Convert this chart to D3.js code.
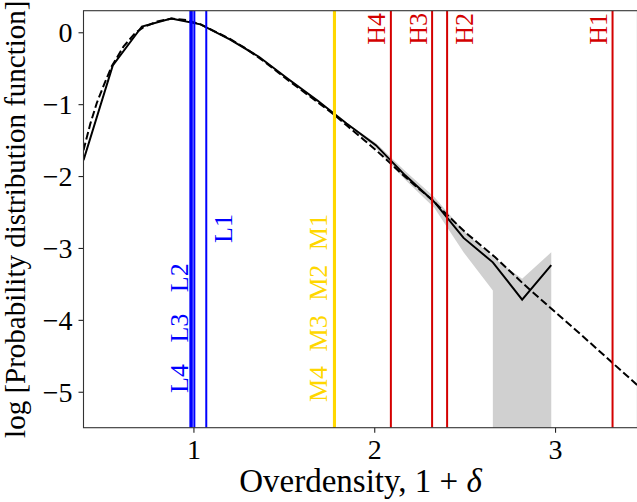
<!DOCTYPE html>
<html><head><meta charset="utf-8">
<script src="https://cdn.jsdelivr.net/npm/d3@7"></script>
<style>
body{margin:0;background:#fff}
text{font-family:"Liberation Serif","Times New Roman",serif}
</style></head>
<body><svg id="c" width="637" height="502"></svg>
<script>
// ---- data ----
const xDomain = [0.392, 3.456];
const yDomain = [-5.5, 0.3];
const xTicks = [1, 2, 3];
const yTicks = [-5, -4, -3, -2, -1, 0];

// measured PDF (solid)
const pdfX = [0.392, 0.554, 0.715, 0.877, 1.039, 1.201, 1.362, 1.524, 1.686, 1.847, 2.009, 2.171, 2.332, 2.494, 2.656, 2.818, 2.979];
const pdfY = [-1.78, -0.46, 0.08, 0.19, 0.11, -0.10, -0.34, -0.65, -0.95, -1.27, -1.57, -1.99, -2.36, -2.86, -3.20, -3.72, -3.24];
const bandUpper = [-1.77, -0.45, 0.09, 0.20, 0.12, -0.09, -0.33, -0.64, -0.94, -1.26, -1.54, -1.93, -2.29, -2.76, -3.13, -3.43, -3.06];
const bandLower = [-1.79, -0.47, 0.07, 0.18, 0.10, -0.11, -0.35, -0.66, -0.96, -1.28, -1.61, -2.05, -2.44, -3.06, -3.59, -Infinity, -Infinity];

// lognormal fit (dashed)
const fitX = [0.392, 0.43, 0.466, 0.51, 0.549, 0.613, 0.678, 0.724, 0.80, 0.88, 0.96, 1.04, 1.12, 1.2, 1.28, 1.36, 1.44, 1.52, 1.60, 1.68, 1.775, 1.85, 1.94, 2.01, 2.088, 2.143, 2.23, 2.32, 2.411, 2.512, 2.669, 2.825, 3.0, 3.15, 3.314, 3.456];
const fitY = [-1.64, -1.27, -0.98, -0.70, -0.47, -0.20, -0.01, 0.07, 0.15, 0.19, 0.17, 0.11, 0.01, -0.09, -0.21, -0.35, -0.50, -0.66, -0.81, -0.96, -1.14, -1.30, -1.49, -1.64, -1.82, -1.95, -2.14, -2.33, -2.56, -2.80, -3.13, -3.50, -3.89, -4.22, -4.59, -4.91];

// region markers
const lowDens = [0.983, 0.991, 1.005, 1.071];
const lowNames = ["L4", "L3", "L2", "L1"];
const midDens = [1.777, 1.779, 1.781, 1.783];
const midNames = ["M4", "M3", "M2", "M1"];
const highDens = [2.092, 2.32, 2.403, 3.318];
const highNames = ["H4", "H3", "H2", "H1"];

const colLow = "#0000ff", colMid = "#ffd700", colHigh = "#d40000";

// ---- layout ----
const L = 83.5, R = 637.5, T = 10.7, B = 427.7;
const svg = d3.select("#c");
const x = d3.scaleLinear().domain(xDomain).range([L, R]);
const y = d3.scaleLinear().domain(yDomain).range([B, T]);

svg.append("clipPath").attr("id", "clip").append("rect")
  .attr("x", L).attr("y", T).attr("width", R - L).attr("height", B - T);
const plot = svg.append("g").attr("clip-path", "url(#clip)");

// band polygon (lower -inf => vertical drop, as matplotlib renders it)
const BIG = B + 100;
const upPts = pdfX.map((v, i) => [x(v), y(bandUpper[i])]);
const loPts = [];
const n = pdfX.length;
for (let i = 0; i < n; i++) {
  if (isFinite(bandLower[i])) {
    if (i > 0 && !isFinite(bandLower[i - 1])) loPts.push([x(pdfX[i]), BIG]);
    loPts.push([x(pdfX[i]), y(bandLower[i])]);
  } else {
    if (i > 0 && isFinite(bandLower[i - 1])) loPts.push([x(pdfX[i - 1]), BIG]);
    if (i === n - 1) loPts.push([x(pdfX[i]), BIG]);
  }
}
plot.append("path")
  .attr("d", "M" + upPts.concat(loPts.reverse()).map(p => p.join(",")).join("L") + "Z")
  .attr("fill", "#d0d0d0").attr("stroke", "none");

const line = d3.line().x(d => x(d[0])).y(d => y(d[1]));
plot.append("path").datum(fitX.map((v, i) => [v, fitY[i]]))
  .attr("d", line).attr("fill", "none").attr("stroke", "#000")
  .attr("stroke-width", 2).attr("stroke-dasharray", "7.7,3.3");
plot.append("path").datum(pdfX.map((v, i) => [v, pdfY[i]]))
  .attr("d", line).attr("fill", "none").attr("stroke", "#000")
  .attr("stroke-width", 2).attr("stroke-linejoin", "miter");

// vertical markers
function vlines(vals, col) {
  plot.selectAll(null).data(vals).enter().append("line")
    .attr("x1", d => x(d)).attr("x2", d => x(d))
    .attr("y1", T).attr("y2", B)
    .attr("stroke", col).attr("stroke-width", 2);
}
vlines(lowDens, colLow);
vlines(midDens, colMid);
vlines(highDens, colHigh);

// marker labels
const fs = 26;
function vtext(txt, bx, by, anchor, col, ws) {
  svg.append("text")
    .attr("transform", `translate(${bx},${by}) rotate(-90)`)
    .attr("text-anchor", anchor)
    .attr("font-size", fs).attr("fill", col)
    .style("word-spacing", (ws || 0) + "px")
    .text(txt);
}
vtext(lowNames.slice(0, 3).join(" "), x(lowDens[0]) - 2, 393, "start", colLow, 15);
vtext(lowNames[3], x(lowDens[3]) + 26, 243, "start", colLow);
vtext(midNames.join(" "), x(midDens[0]) - 7, 402, "start", colMid, 8);
highDens.forEach((d, i) => {
  const rightSide = highNames[i] === "H2";
  vtext(highNames[i], rightSide ? x(d) + 26 : x(d) - 5.5, 13, "end", colHigh);
});

// axes
const ax = svg.append("g");
const yAx = ax.append("g").attr("transform", `translate(${L},0)`)
  .call(d3.axisLeft(y).tickValues(yTicks).tickSize(5).tickSizeOuter(0).tickPadding(6)
    .tickFormat(d => d < 0 ? "\u2212" + Math.abs(d) : d));
const xAx = ax.append("g").attr("transform", `translate(0,${B})`)
  .call(d3.axisBottom(x).tickValues(xTicks).tickSize(5).tickSizeOuter(0).tickPadding(6)
    .tickFormat(d3.format("d")));
ax.selectAll(".domain").remove();
ax.selectAll(".tick line").attr("stroke", "#222").attr("stroke-width", 1.1);
ax.selectAll(".tick text").attr("font-family", "Liberation Serif, serif").attr("font-size", 28).attr("fill", "#000");
yAx.selectAll(".tick text").attr("dy", "0.33em");
xAx.selectAll(".tick text").attr("dy", "0.71em");

svg.append("rect").attr("x", L).attr("y", T).attr("width", R - L).attr("height", B - T)
  .attr("fill", "none").attr("stroke", "#333").attr("stroke-width", 1.1);

// axis labels
svg.append("text").attr("transform", `translate(25,${(T + B) / 2}) rotate(-90)`)
  .attr("text-anchor", "middle").attr("font-size", 29)
  .text("log [Probability distribution function]");
const xl = svg.append("text").attr("x", (L + R) / 2).attr("y", 492)
  .attr("text-anchor", "middle").attr("font-size", 33);
xl.append("tspan").text("Overdensity, 1 + ");
xl.append("tspan").attr("font-style", "italic").text("\u03b4");
</script></body></html>
